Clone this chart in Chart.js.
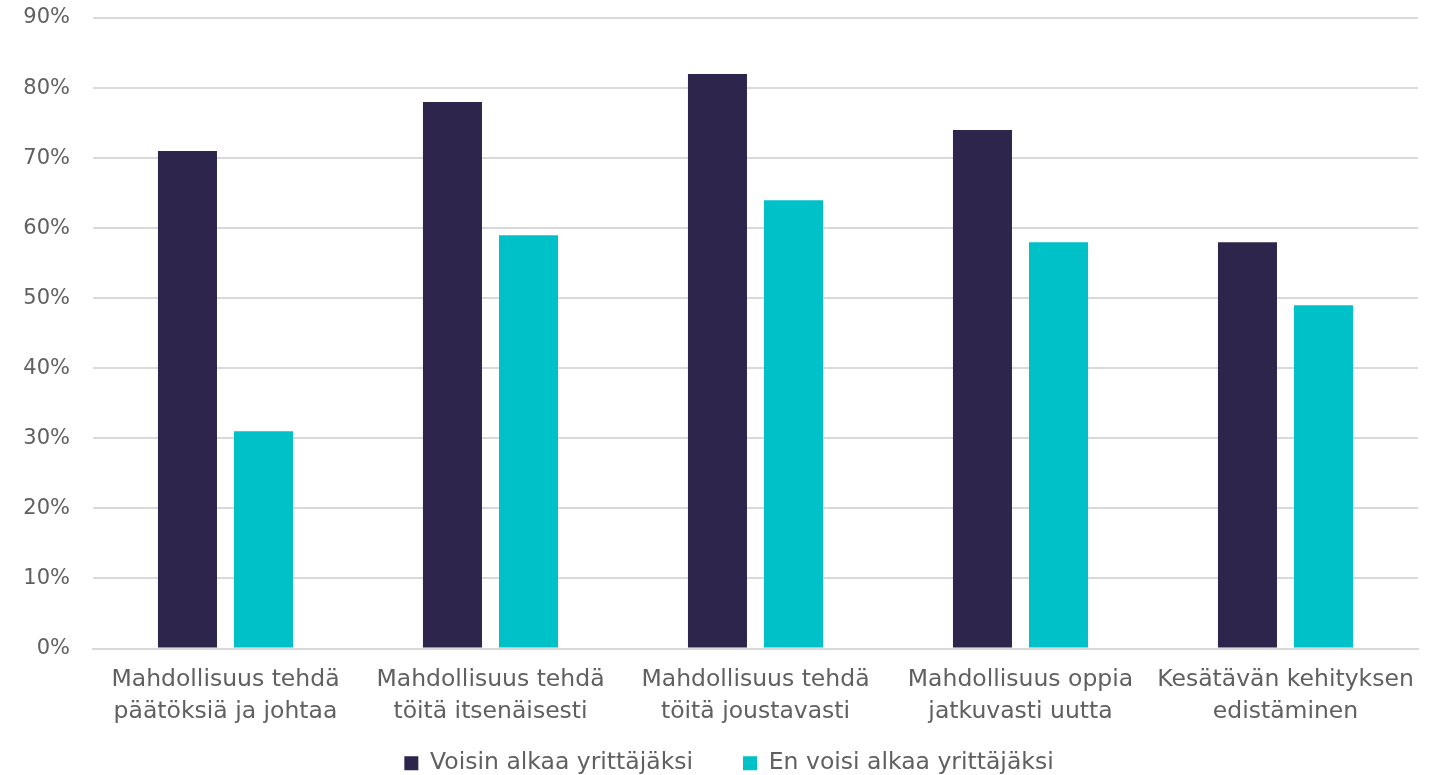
<!DOCTYPE html>
<html>
<head>
<meta charset="utf-8">
<script src="https://cdn.jsdelivr.net/npm/chart.js@4"></script>
<style>
  html, body { margin: 0; padding: 0; background: #fff; }
  #wrap { width: 1440px; height: 775px; }
</style>
</head>
<body>
<div id="wrap"><canvas id="chart"></canvas></div>
<script>
const categories = [
  ["Mahdollisuus tehdä", "päätöksiä ja johtaa"],
  ["Mahdollisuus tehdä", "töitä itsenäisesti"],
  ["Mahdollisuus tehdä", "töitä joustavasti"],
  ["Mahdollisuus oppia", "jatkuvasti uutta"],
  ["Kesätävän kehityksen", "edistäminen"],
];
const voisin = [71, 78, 82, 74, 58];
const enVoisi = [31, 59, 64, 58, 49];
const seriesNames = ["Voisin alkaa yrittäjäksi", "En voisi alkaa yrittäjäksi"];

const textColor = "#606060";
const font = "'DejaVu Sans', sans-serif";

// the legend needs a wide gap between items but sits close to the axis labels,
// so lift it up after layout instead of growing the padding around it
const legendLift = {
  id: "legendLift",
  afterLayout(chart) {
    const lg = chart.legend;
    lg.top -= 41;
    lg.bottom -= 41;
    lg.left += 9;
    lg.right += 9;
  },
};

new Chart(document.getElementById("chart"), {
  type: "bar",
  data: {
    labels: categories,
    datasets: [
      {
        label: seriesNames[0],
        data: voisin,
        backgroundColor: "#2d254c",
        categoryPercentage: 0.574,
        barPercentage: 0.776,
      },
      {
        label: seriesNames[1],
        data: enVoisi,
        backgroundColor: "#00c1c8",
        categoryPercentage: 0.574,
        barPercentage: 0.776,
      },
    ],
  },
  plugins: [legendLift],
  options: {
    responsive: true,
    maintainAspectRatio: false,
    animation: false,
    layout: { padding: { left: 22, right: 22, top: 18, bottom: -51 } },
    scales: {
      x: {
        grid: { display: false, drawTicks: false },
        border: { color: "#d9d9d9", width: 2 },
        ticks: {
          color: textColor,
          font: { family: font, size: 23.5, lineHeight: 32 / 23.5 },
          padding: 15,
          maxRotation: 0,
        },
      },
      y: {
        min: 0,
        max: 90,
        ticks: {
          stepSize: 10,
          color: textColor,
          font: { family: font, size: 21 },
          padding: 23,
          callback: (v) => v + "%",
        },
        grid: { color: "#d9d9d9", lineWidth: 2, drawTicks: false },
        border: { display: false },
        afterFit: (scale) => {
          scale.width = 71;
          scale.paddingTop = 0;
          scale.paddingBottom = 0;
        },
      },
    },
    plugins: {
      legend: {
        position: "bottom",
        labels: {
          color: textColor,
          font: { family: font, size: 23.5 },
          boxWidth: 14,
          boxHeight: 14,
          padding: 50,
        },
      },
      tooltip: { enabled: false },
    },
  },
});
</script>
</body>
</html>
